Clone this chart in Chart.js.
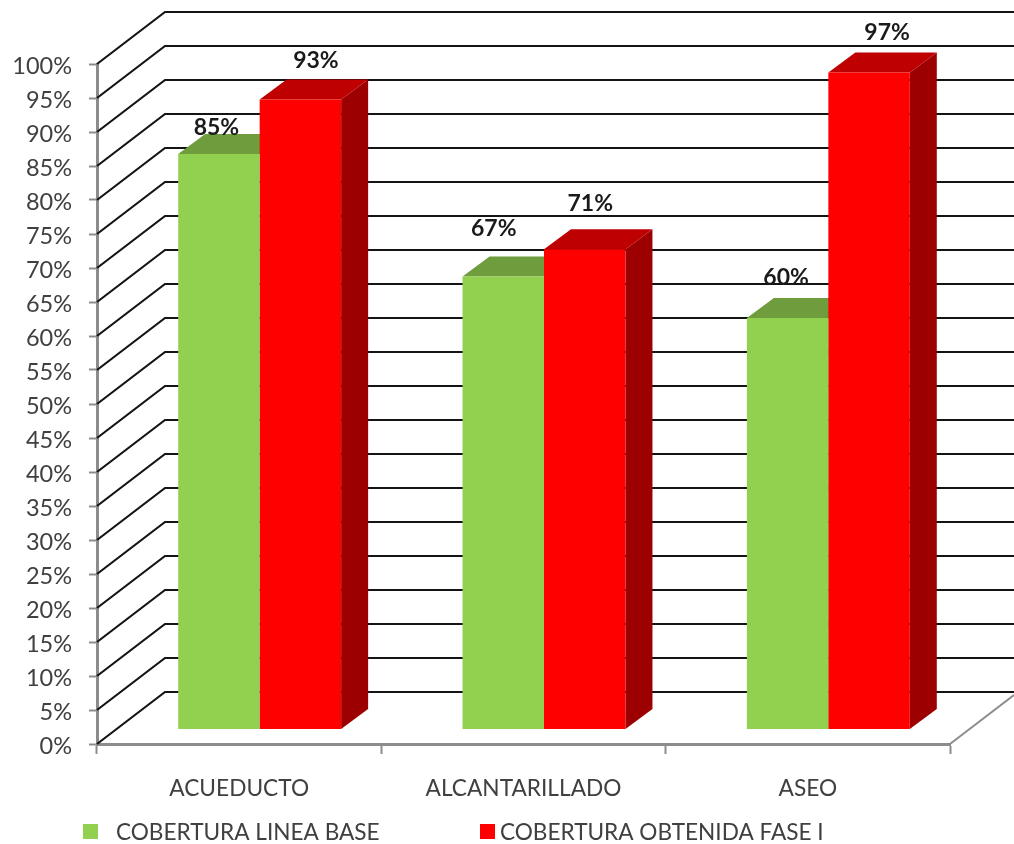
<!DOCTYPE html>
<html><head><meta charset="utf-8">
<style>html,body{margin:0;padding:0;background:#fff}canvas{display:block;filter:blur(0.6px)}</style>
<script src="https://cdn.jsdelivr.net/npm/chart.js@4"></script>
</head><body><canvas id="c" width="1014" height="844"></canvas>
<script>
const categories = ["ACUEDUCTO", "ALCANTARILLADO", "ASEO"];
const lineaBase = [85, 67, 60.9];
const faseI = [93, 71, 97];
const lineaBaseLabels = ["85%", "67%", "60%"];
const faseILabels = ["93%", "71%", "97%"];
const seriesNames = ["COBERTURA LINEA BASE", "COBERTURA OBTENIDA FASE I"];

const FONT = "Lato, Carlito, sans-serif";
const WALL = {dx: 68, dy: -52};
const DEPTH = {dx: 27, dy: -20};
const SHIFT = {dx: 20.5, dy: -12};
const labelNudge = [
  [{x: -2.5, y: -26}, {x: -9.5, y: -48}, {x: -1.5, y: -40}],
  [{x: 15.5, y: -39}, {x: 5.5, y: -46}, {x: 18, y: -40}]
];
const topShades = ["#6F9C3D", "#BF0000"];
const sideShades = ["#6F9C3D", "#9C0000"];

const wall3d = {
  id: "wall3d",
  beforeDatasetsDraw(chart) {
    const {ctx, scales: {x, y}, chartArea: a, width} = chart;
    ctx.save();
    ctx.strokeStyle = "#141414";
    ctx.lineWidth = 2.2;
    y.ticks.forEach(t => {
      const py = y.getPixelForValue(t.value);
      ctx.beginPath();
      ctx.moveTo(a.left, py);
      ctx.lineTo(a.left + WALL.dx, py + WALL.dy);
      ctx.lineTo(width, py + WALL.dy);
      ctx.stroke();
    });
    ctx.strokeStyle = "#8C8C8C";
    ctx.lineWidth = 2;
    ctx.beginPath();
    ctx.moveTo(a.right, a.bottom);
    ctx.lineTo(width, a.bottom + WALL.dy + 3);
    ctx.stroke();
    ctx.restore();

    ctx.save();
    ctx.translate(SHIFT.dx, SHIFT.dy);
    chart.data.datasets.forEach((ds, i) => {
      chart.getDatasetMeta(i).data.forEach(b => {
        const l = b.x - b.width / 2, r = b.x + b.width / 2, t = b.y, bt = b.base;
        ctx.fillStyle = sideShades[i];
        ctx.beginPath();
        ctx.moveTo(r, t); ctx.lineTo(r + DEPTH.dx, t + DEPTH.dy);
        ctx.lineTo(r + DEPTH.dx, bt + DEPTH.dy); ctx.lineTo(r, bt);
        ctx.closePath(); ctx.fill();
        ctx.fillStyle = topShades[i];
        ctx.beginPath();
        ctx.moveTo(l, t); ctx.lineTo(l + DEPTH.dx, t + DEPTH.dy);
        ctx.lineTo(r + DEPTH.dx, t + DEPTH.dy); ctx.lineTo(r, t);
        ctx.closePath(); ctx.fill();
      });
    });
    // front faces are drawn by the library inside this translation
  },
  afterDatasetsDraw(chart) {
    const {ctx} = chart;
    ctx.restore();
    ctx.save();
    ctx.font = "bold 23px " + FONT;
    ctx.fillStyle = "#1A1A1A";
    ctx.textAlign = "center";
    ctx.textBaseline = "middle";
    [lineaBaseLabels, faseILabels].forEach((labels, i) => {
      chart.getDatasetMeta(i).data.forEach((b, j) => {
        const n = labelNudge[i][j];
        ctx.fillText(labels[j], b.x + SHIFT.dx + n.x, b.y + SHIFT.dy + n.y);
      });
    });
    ctx.restore();
  },
  afterDraw(chart) {
    const {ctx} = chart;
    const items = [{bx: 83, tx: 116}, {bx: 480, tx: 500}];
    ctx.save();
    ctx.font = "22.6px " + FONT;
    ctx.textBaseline = "middle";
    chart.data.datasets.forEach((ds, i) => {
      ctx.fillStyle = ds.backgroundColor;
      ctx.fillRect(items[i].bx, 824, 15, 15);
      ctx.fillStyle = "#404040";
      ctx.fillText(ds.label, items[i].tx, 833);
    });
    ctx.restore();
  }
};

new Chart(document.getElementById("c"), {
  type: "bar",
  data: {
    labels: categories,
    datasets: [
      {label: seriesNames[0], data: lineaBase, backgroundColor: "#92D050", base: 0.44},
      {label: seriesNames[1], data: faseI, backgroundColor: "#FF0000", base: 0.44}
    ]
  },
  plugins: [wall3d],
  options: {
    responsive: false,
    devicePixelRatio: 1,
    animation: false,
    layout: {padding: {top: 64, right: 64, left: 0, bottom: 0}},
    plugins: {legend: {display: false}, tooltip: {enabled: false}},
    datasets: {bar: {categoryPercentage: 0.573, barPercentage: 1}},
    scales: {
      x: {
        afterFit(s) { s.height = 100; },
        grid: {drawOnChartArea: false, offset: true, tickLength: 10, tickColor: "#8C8C8C", tickWidth: 2},
        border: {color: "#8C8C8C", width: 3},
        ticks: {font: {family: FONT, size: 22.7}, color: "#404040", padding: 21, maxRotation: 0}
      },
      y: {
        min: 0, max: 100,
        afterFit(s) { s.width = 97; },
        grid: {drawOnChartArea: false, tickLength: 8, tickColor: "#8C8C8C", tickWidth: 2},
        border: {color: "#8C8C8C", width: 3},
        ticks: {stepSize: 5, autoSkip: false, font: {family: FONT, size: 23.5}, color: "#404040", padding: 17,
                labelOffset: 2, callback: v => v + "%"}
      }
    }
  }
});
</script></body></html>
